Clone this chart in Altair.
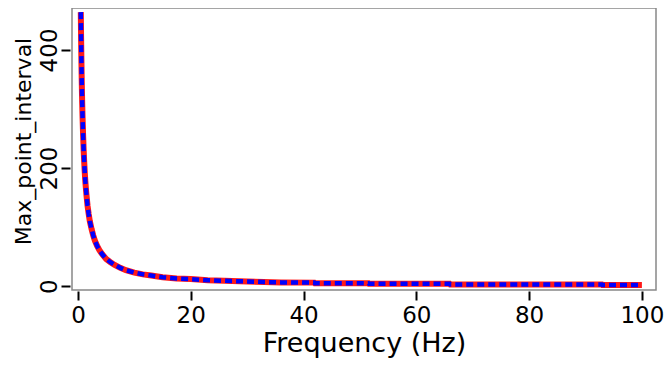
import altair as alt
import pandas as pd

freq = [0.5, 0.55, 0.6, 0.65, 0.7, 0.75, 0.8, 0.9, 1.0, 1.1, 1.2, 1.3, 1.4, 1.5,
        1.7, 1.9, 2.1, 2.4, 2.7, 3.0, 3.4, 3.8, 4.3, 5.0, 5.7, 6.5, 7.5, 8.5,
        10, 11.5, 13, 15, 17.5, 20, 23, 26, 30, 33, 36, 41.9, 42, 51.5, 51.6,
        58, 65.9, 66, 75, 85, 92.9, 93, 100]
max_interval = [464, 422, 387, 357, 331, 309, 290, 258, 232, 211, 193, 178, 166, 155,
                136, 122, 110, 97, 86, 77, 68, 61, 54, 46, 41, 36, 31, 27,
                23, 20, 18, 15, 13, 12, 10, 9, 8, 7, 6.4, 6, 5, 5, 4,
                4, 4, 3, 3, 3, 3, 2, 2]

x_ticks = [0, 20, 40, 60, 80, 100]
y_ticks = [0, 200, 400]

df = pd.DataFrame({"f": freq, "v": max_interval})

FONT = "DejaVu Sans"

x_enc = alt.X("f:Q",
              scale=alt.Scale(domain=[-1.06, 102.5], nice=False, zero=False),
              axis=alt.Axis(values=x_ticks, title="Frequency (Hz)", offset=1,
                            labelPadding=4, titlePadding=3, titleFontSize=27))
y_enc = alt.Y("v:Q",
              scale=alt.Scale(domain=[-6.5, 471], nice=False, zero=False),
              axis=alt.Axis(values=y_ticks, title="Max_point_interval", offset=2,
                            labelAngle=270, labelAlign="center", labelBaseline="bottom",
                            labelPadding=0, titleFontSize=22,
                            titleX=-35, titleY=133, titleAngle=270,
                            titleAlign="center", titleBaseline="bottom"))

red = alt.Chart(df).mark_line(color="#ff0000", strokeWidth=6, opacity=0.9).encode(
    x=x_enc, y=y_enc, order="f:Q")
blue = alt.Chart(df).mark_line(color="#0000ff", strokeWidth=4.5, strokeDash=[7, 4]).encode(
    x=x_enc, y=y_enc, order="f:Q")

chart = alt.layer(red, blue).properties(
    width=584, height=282,
    autosize=alt.AutoSizeParams(type="none"),
    padding={"left": 64, "top": 0, "right": 8, "bottom": 70},
).configure_view(
    stroke="#888888", strokeWidth=1.5
).configure_axis(
    domain=False, grid=False,
    tickColor="black", tickWidth=2, tickSize=9,
    labelFont=FONT, labelFontSize=23, labelColor="black",
    titleFont=FONT, titleFontWeight="normal", titleColor="black",
)

chart.save("out.html", embed_options={"renderer": "svg", "actions": False})
